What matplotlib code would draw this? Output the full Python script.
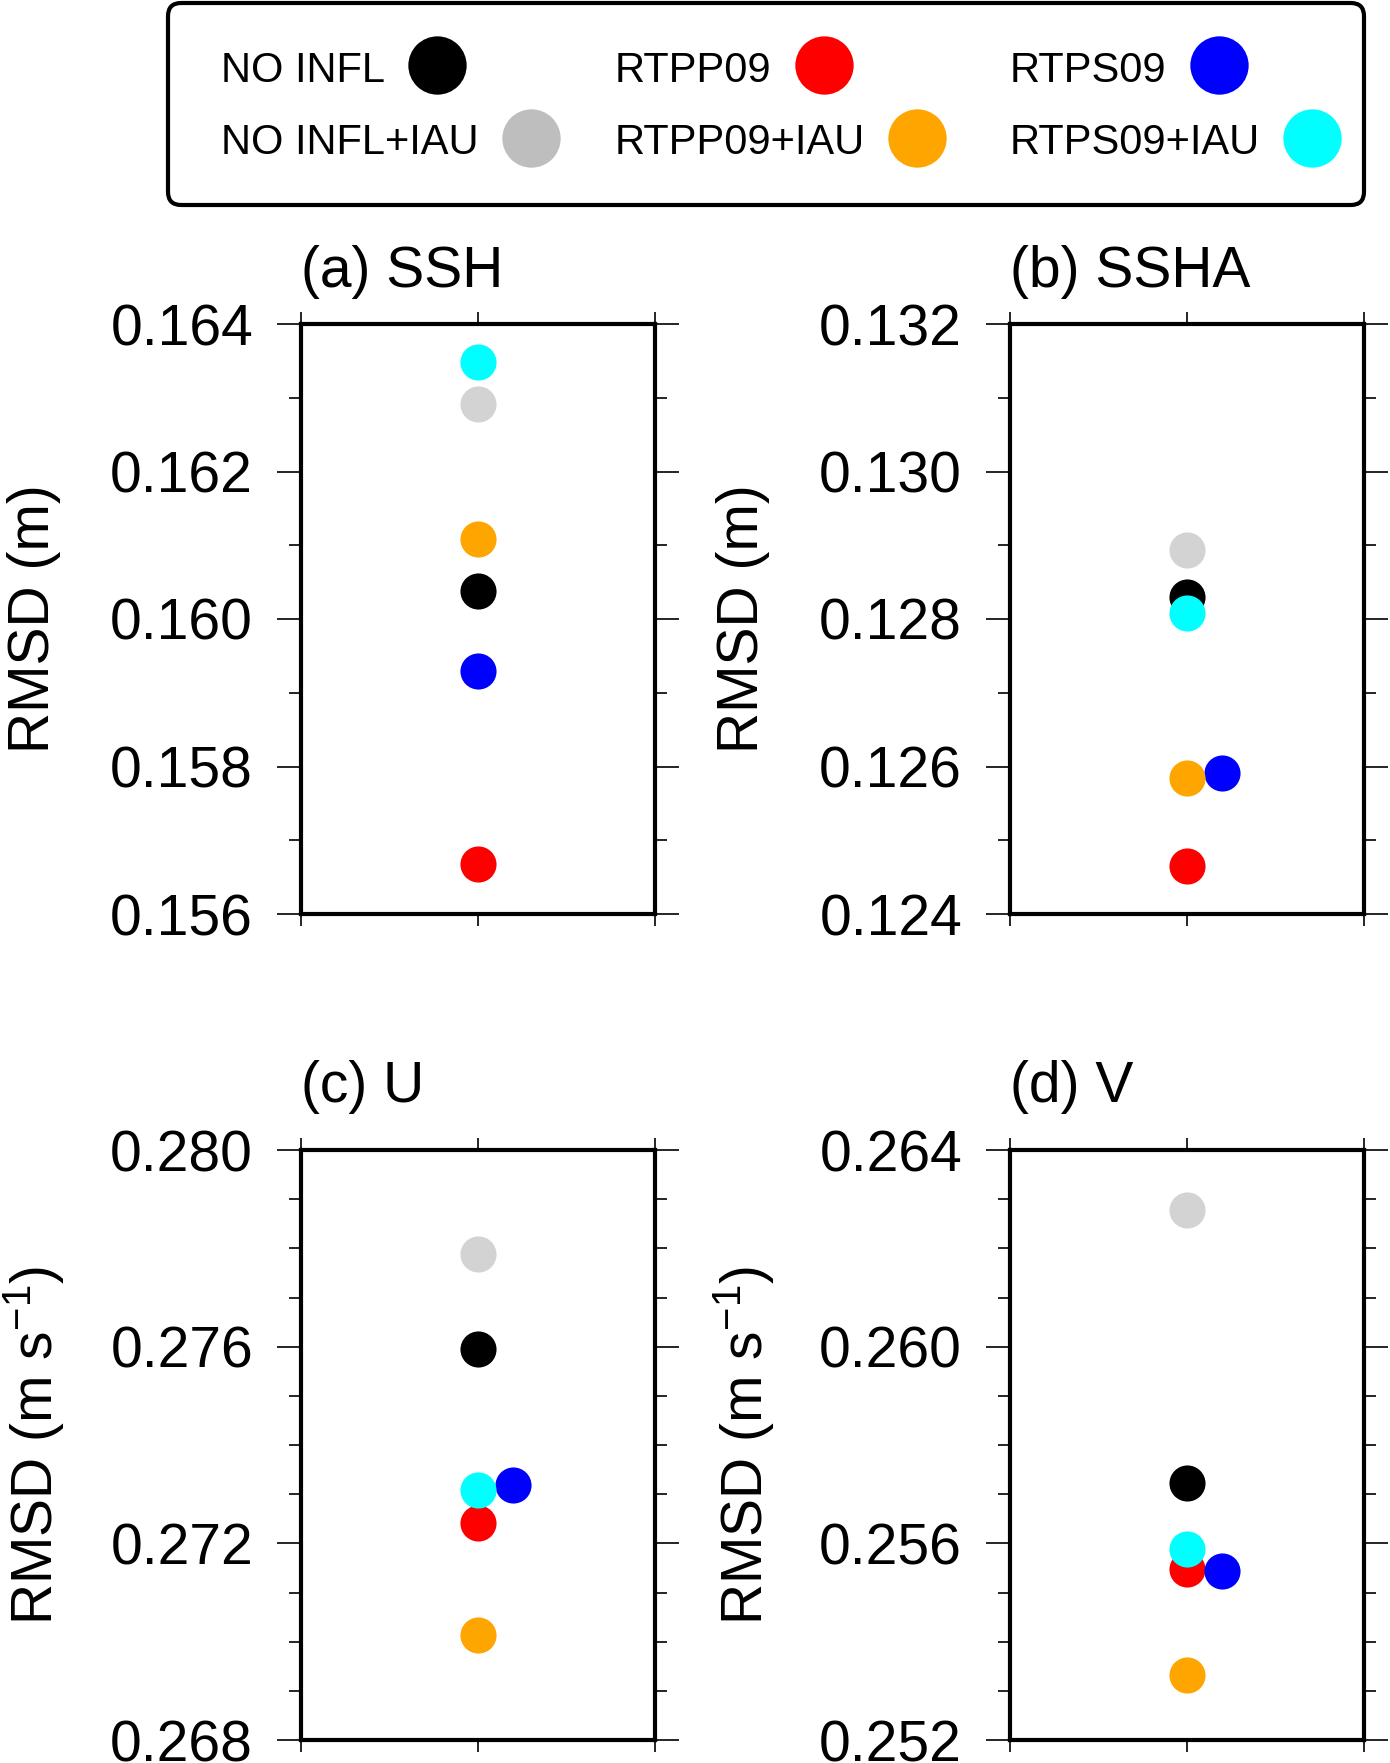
import matplotlib
matplotlib.use('Agg')
import matplotlib.pyplot as plt
from matplotlib.patches import FancyBboxPatch
from matplotlib.ticker import MultipleLocator, FormatStrFormatter

plt.rcParams['font.family'] = ['Liberation Sans', 'DejaVu Sans']
plt.rcParams['mathtext.fontset'] = 'custom'
plt.rcParams['mathtext.rm'] = 'Liberation Sans'
plt.rcParams['mathtext.it'] = 'Liberation Sans:italic'

# experiments (legend order, column by column)
exps = ['NO INFL', 'NO INFL+IAU', 'RTPP09', 'RTPP09+IAU', 'RTPS09', 'RTPS09+IAU']
colors = ['black', '#D3D3D3', 'red', 'orange', 'blue', 'cyan']
legend_colors = ['black', '#BEBEBE', 'red', 'orange', 'blue', 'cyan']
draw_order = [0, 2, 4, 1, 3, 5]

titles = ['(a) SSH', '(b) SSHA', '(c) U', '(d) V']
ylabels = ['RMSD (m)', 'RMSD (m)', r'RMSD (m s$^{-1}$)', r'RMSD (m s$^{-1}$)']

# RMSD values per panel, same order as exps
ssh = [0.16038, 0.16292, 0.15668, 0.16108, 0.15930, 0.16349]
ssha = [0.12830, 0.12894, 0.12465, 0.12584, 0.12591, 0.12808]
u = [0.27596, 0.27789, 0.27242, 0.27013, 0.27319, 0.27308]
v = [0.25722, 0.26278, 0.25547, 0.25332, 0.25543, 0.25588]
panel_vals = [ssh, ssha, u, v]

# x position of each experiment (RTPS09 nudged right where it overlaps)
x_ssh = [0, 0, 0, 0, 0, 0]
x_ssha = [0, 0, 0, 0, 0.2, 0]
x_u = [0, 0, 0, 0, 0.2, 0]
x_v = [0, 0, 0, 0, 0.2, 0]
panel_x = [x_ssh, x_ssha, x_u, x_v]

ylims = [(0.156, 0.164), (0.124, 0.132), (0.268, 0.280), (0.252, 0.264)]
ymajor = [0.002, 0.002, 0.004, 0.004]

W, H = 1390, 1763
fig = plt.figure(figsize=(W / 100, H / 100), dpi=100)

# axes boxes in pixels: left, top
boxes = [(301, 324), (1010, 324), (301, 1150), (1010, 1150)]
title_off = [37, 37, 48, 48]
aw, ah = 354, 590

for i in range(4):
    left, top = boxes[i]
    ax = fig.add_axes([left / W, 1 - (top + ah) / H, aw / W, ah / H])
    vals = panel_vals[i]
    xs = panel_x[i]
    for k in draw_order:
        ax.plot(xs[k], vals[k], 'o', ms=26, color=colors[k], mec='none')
    ax.set_xlim(-1, 1)
    ax.set_ylim(*ylims[i])
    ax.set_xticks([-1, 0, 1])
    ax.set_xticklabels([])
    ax.yaxis.set_major_locator(MultipleLocator(ymajor[i]))
    ax.yaxis.set_minor_locator(MultipleLocator(0.001))
    ax.yaxis.set_major_formatter(FormatStrFormatter('%.3f'))
    ax.tick_params(axis='x', which='major', direction='out', length=8.6, width=1.2,
                   top=True, bottom=True)
    ax.tick_params(axis='y', which='major', direction='out', length=17.5, width=1.2,
                   left=True, right=True, labelsize=41, pad=17)
    ax.tick_params(axis='y', which='minor', direction='out', length=8.6, width=1.2,
                   left=True, right=True)
    for sp in ax.spines.values():
        sp.set_linewidth(3)
    ax.text(0, 1 + title_off[i] / ah, titles[i], transform=ax.transAxes, fontsize=41,
            ha='left', va='baseline')
    ax.text(-267 / aw, 0.5, ylabels[i], transform=ax.transAxes, fontsize=41,
            rotation=90, ha='center', va='center')

# legend box at the top
bx0, bx1, by0, by1 = 168, 1364, 3, 205
bw, bh = bx1 - bx0, by1 - by0
lax = fig.add_axes([bx0 / W, 1 - by1 / H, bw / W, bh / H])
lax.set_xlim(0, 1)
lax.set_ylim(0, 1)
lax.axis('off')
frame = FancyBboxPatch((0, 0), 1, 1, boxstyle='round,pad=0,rounding_size=0.011',
                       mutation_aspect=bw / bh, fc='white', ec='black', lw=3,
                       transform=lax.transAxes, clip_on=False)
lax.add_patch(frame)

col_x = [(221 - bx0) / bw, (615 - bx0) / bw, (1010 - bx0) / bw]
text_y = [1 - (71 - by0) / bh, 1 - (143 - by0) / bh]
mark_y = [1 - (65 - by0) / bh, 1 - (138 - by0) / bh]
texts = []
for k, name in enumerate(exps):
    t = lax.text(col_x[k // 2], text_y[k % 2], name, fontsize=30, ha='left', va='center')
    texts.append(t)

fig.canvas.draw()
inv = lax.transAxes.inverted()
for k, t in enumerate(texts):
    bb = t.get_window_extent()
    xr = inv.transform((bb.x1, bb.y0))[0]
    lax.plot(xr + 52 / bw, mark_y[k % 2], 'o', ms=42, color=legend_colors[k],
             mec='none', clip_on=False)

fig.savefig('out.png', dpi=100)
